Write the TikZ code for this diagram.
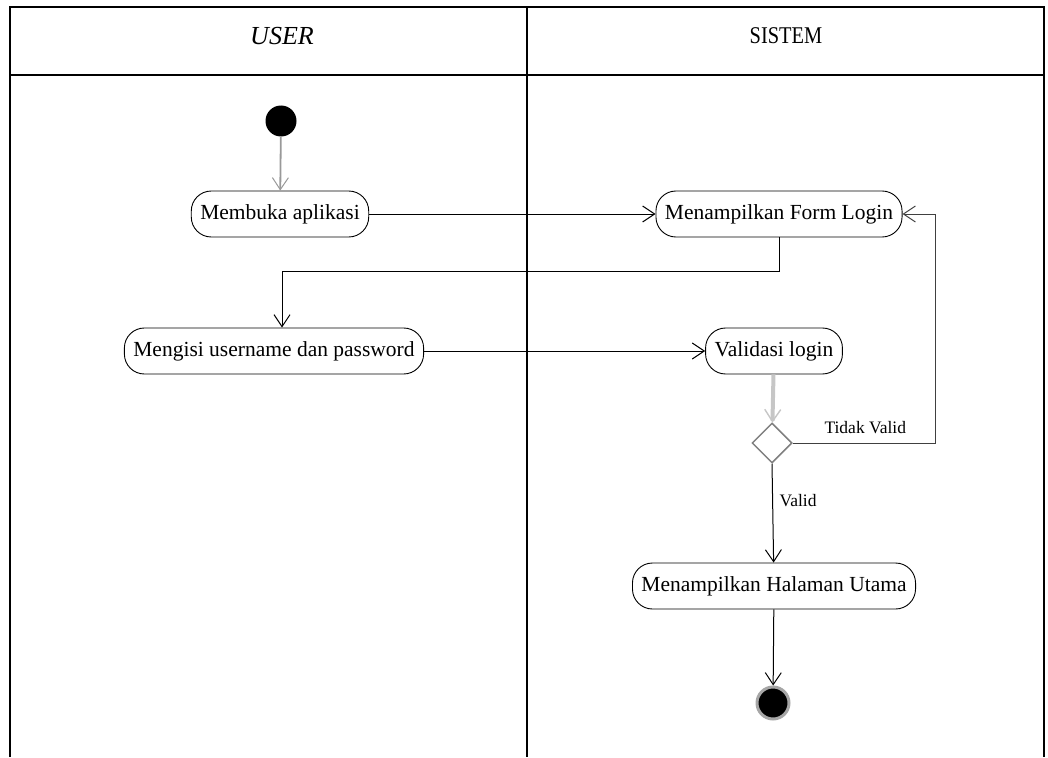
\documentclass[tikz,border=0pt]{standalone}
\usepackage{fontspec}
\setmainfont{Liberation Serif}
\newfontfamily\narrowserif[FakeStretch=0.85]{Liberation Serif}
\usetikzlibrary{arrows.meta,shapes.geometric}

\tikzset{
  activity/.style={draw,rounded corners=20pt,minimum height=46pt,inner xsep=9pt,
    line width=0.9pt,font=\fontsize{21.5}{24}\selectfont},
  flow/.style={line width=1pt,-{Straight Barb[length=12pt,width=16pt,line width=1pt]}},
  grayflow/.style={flow,draw=gray!80},
  guard/.style={font=\fontsize{17.5}{20}\selectfont},
}

\begin{document}
\begin{tikzpicture}[x=1pt,y=1pt]
\useasboundingbox (0,0) rectangle (1048,-757);

% swimlanes
\draw[line width=1.6pt] (10,-757) -- (10,-7) -- (1044,-7) -- (1044,-757);
\draw[line width=1.6pt] (10,-75) -- (1044,-75);
\draw[line width=1.6pt] (527,-7) -- (527,-757);
\node[font=\fontsize{26}{28}\selectfont\itshape] (lane1) at (282,-36) {USER};
\node[font=\narrowserif\fontsize{24}{28}\selectfont] (lane2) at (786,-36) {SISTEM};

% activities
\node[circle,fill=black,minimum size=31pt,inner sep=0pt] (start) at (281,-121) {};
\node[activity] (open) at (280,-214) {Membuka aplikasi};
\node[activity] (form) at (779,-214) {Menampilkan Form Login};
\node[activity] (fill) at (274,-351) {Mengisi username dan password};
\node[activity] (check) at (774,-351) {Validasi login};
\node[diamond,draw=gray,line width=1.5pt,minimum size=40pt,inner sep=0pt] (dec) at (772,-443) {};
\node[activity] (home) at (774,-586) {Menampilkan Halaman Utama};
\node[circle,fill=black,draw=gray!70,line width=3pt,minimum size=32pt,inner sep=0pt] (stop) at (773,-703) {};
\coordinate (loop) at (935,-443);

% transitions
\draw[grayflow,line width=1.8pt] (start) -- (open);
\draw[flow] (open) -- (form);
\draw[flow] (form.south) -- ++(0,-34) -| ([xshift=8pt]fill.north);
\draw[flow] (fill) -- (check);
\draw[grayflow,draw=gray!45,line width=4pt,-{Straight Barb[length=12pt,width=16pt,line width=1.4pt]}] (check) -- (dec);
\draw[flow,draw=black!75] (dec.east) -- (loop) |- (form.east);
\node[guard,anchor=south west] (lbl1) at (821,-437) {Tidak Valid};
\draw[flow] (dec.south) -- (home);
\node[guard] (lbl2) at (798,-501) {Valid};
\draw[flow] (home) -- (stop);

\end{tikzpicture}
\end{document}
